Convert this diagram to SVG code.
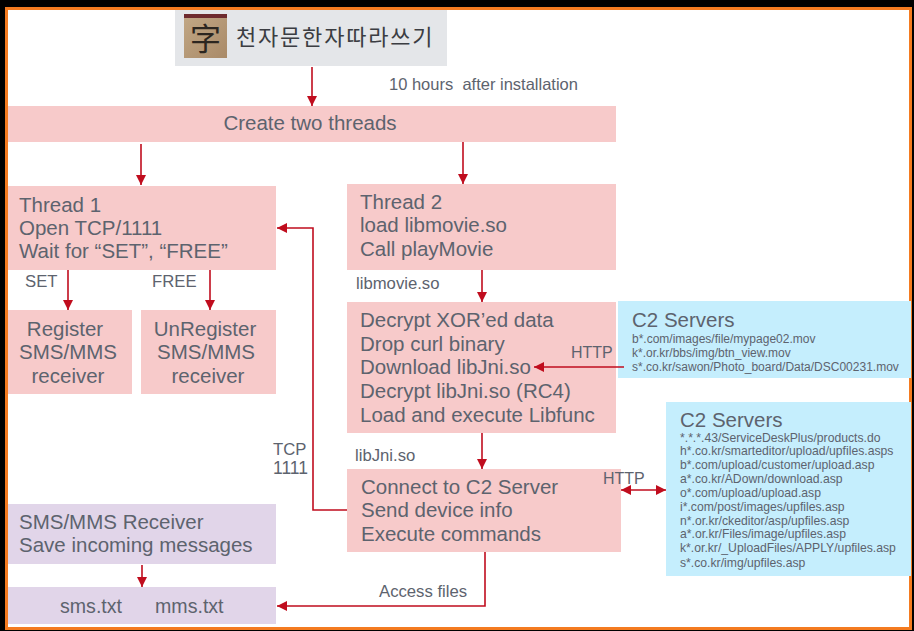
<svg xmlns="http://www.w3.org/2000/svg" width="914" height="631" viewBox="0 0 914 631">
<defs>
<marker id="ah" markerUnits="userSpaceOnUse" markerWidth="11" markerHeight="11" refX="10" refY="5" orient="auto-start-reverse"><path d="M0 0L10 5L0 10Z" fill="#c00d1e"/></marker>
<linearGradient id="tan" x1="0" y1="0" x2="1" y2="1"><stop offset="0" stop-color="#c2a886"/><stop offset="1" stop-color="#a98a68"/></linearGradient>
</defs>
<style>
text{font-family:"Liberation Sans",Arial,sans-serif;fill:#5d636e;white-space:pre}
.pink{fill:#f7caca}.lav{fill:#e1d5e9}.blue{fill:#c5eefd}
.t20{font-size:20.5px}.t17{font-size:16.7px}.t16{font-size:16.5px}.http{font-size:16px}.t11{font-size:12px}.t12{font-size:12.2px}
.c{text-anchor:middle}
#connectors path{fill:none;stroke:#c00d1e;stroke-width:1.6;marker-end:url(#ah)}
</style>
<rect width="914" height="631" fill="#000"/>
<rect x="6.500" y="8.500" width="904" height="620" fill="#fff" stroke="#f47b20" stroke-width="3"/>

<g id="app">
<rect x="175" y="10" width="272" height="56" fill="#e4e6e9"/>
<rect x="184" y="14" width="43" height="44" fill="url(#tan)"/>
<rect x="184" y="14" width="43" height="4" fill="#6e2a2e"/>
<text x="205.500" y="50" class="c" style="font-family:'Noto Sans CJK SC','Noto Sans CJK KR',sans-serif;fill:#2c2620;font-size:31px">字</text>
<text x="236" y="45" style="font-family:'Noto Sans CJK KR',sans-serif;fill:#3b3d42;font-size:22px;letter-spacing:1.8px">천자문한자따라쓰기</text>
</g>
<g id="note"><text x="389" y="90" class="t16">10 hours  after installation</text></g>
<g id="create">
<rect x="8" y="106" width="608" height="36" class="pink"/>
<text x="310" y="130" class="t20 c">Create two threads</text>
</g>
<g id="thread1">
<rect x="8" y="186" width="268" height="84" class="pink"/>
<text x="19" y="212" class="t20">Thread 1</text>
<text x="19" y="235" class="t20">Open TCP/1111</text>
<text x="19" y="258" class="t20">Wait for “SET”, “FREE”</text>
</g>
<g id="thread2">
<rect x="347" y="184" width="269" height="86" class="pink"/>
<text x="360" y="209" class="t20">Thread 2</text>
<text x="360" y="232" class="t20">load libmovie.so</text>
<text x="360" y="256" class="t20">Call playMovie</text>
</g>
<g id="register">
<rect x="8" y="310" width="124" height="84" class="pink"/>
<text x="65" y="336" class="t20 c">Register</text>
<text x="68" y="359" class="t20 c">SMS/MMS</text>
<text x="68" y="383" class="t20 c">receiver</text>
</g>
<g id="unregister">
<rect x="141" y="310" width="135" height="84" class="pink"/>
<text x="205" y="336" class="t20 c">UnRegister</text>
<text x="206" y="359" class="t20 c">SMS/MMS</text>
<text x="208" y="383" class="t20 c">receiver</text>
</g>
<g id="decrypt">
<rect x="347" y="302" width="269" height="131" class="pink"/>
<text x="360" y="327" class="t20">Decrypt XOR’ed data</text>
<text x="360" y="351" class="t20">Drop curl binary</text>
<text x="360" y="374" class="t20">Download libJni.so</text>
<text x="360" y="398" class="t20">Decrypt libJni.so (RC4)</text>
<text x="360" y="422" class="t20">Load and execute Libfunc</text>
</g>
<g id="connect">
<rect x="347" y="469" width="274" height="83" class="pink"/>
<text x="361" y="494" class="t20">Connect to C2 Server</text>
<text x="361" y="517" class="t20">Send device info</text>
<text x="361" y="541" class="t20">Execute commands</text>
</g>
<g id="receiver">
<rect x="8" y="504" width="268" height="60" class="lav"/>
<text x="19" y="529" class="t20">SMS/MMS Receiver</text>
<text x="19" y="552" class="t20">Save incoming messages</text>
</g>
<g id="files">
<rect x="8" y="587" width="268" height="37" class="lav"/>
<text x="60" y="613" style="font-size:19.6px">sms.txt</text>
<text x="155" y="613" style="font-size:19.6px">mms.txt</text>
</g>
<g id="c2a">
<rect x="618" y="301" width="293" height="77" class="blue"/>
<text x="632" y="327" class="t20">C2 Servers</text>
<text x="632" y="343" class="t11">b*.com/images/file/mypage02.mov</text>
<text x="632" y="357" class="t11">k*.or.kr/bbs/img/btn_view.mov</text>
<text x="632" y="371" class="t11">s*.co.kr/sawon/Photo_board/Data/DSC00231.mov</text>
</g>
<g id="c2b">
<rect x="666" y="402" width="245" height="174" class="blue"/>
<text x="680" y="427" class="t20">C2 Servers</text>
<text x="680" y="442" class="t12">*.*.*.43/ServiceDeskPlus/products.do</text>
<text x="680" y="455" class="t12">h*.co.kr/smarteditor/upload/upfiles.asps</text>
<text x="680" y="469" class="t12">b*.com/upload/customer/upload.asp</text>
<text x="680" y="483" class="t12">a*.co.kr/ADown/download.asp</text>
<text x="680" y="497" class="t12">o*.com/upload/upload.asp</text>
<text x="680" y="511" class="t12">i*.com/post/images/upfiles.asp</text>
<text x="680" y="525" class="t12">n*.or.kr/ckeditor/asp/upfiles.asp</text>
<text x="680" y="538" class="t12">a*.or.kr/Files/image/upfiles.asp</text>
<text x="680" y="552" class="t12">k*.or.kr/_UploadFiles/APPLY/upfiles.asp</text>
<text x="680" y="567" class="t12">s*.co.kr/img/upfiles.asp</text>
</g>
<g id="labels">
<text x="25" y="287" class="t17">SET</text>
<text x="152" y="287" class="t17">FREE</text>
<text x="356" y="289" class="t17">libmovie.so</text>
<text x="355" y="461" class="t17">libJni.so</text>
<text x="571" y="358" class="http">HTTP</text>
<text x="603" y="484" class="http">HTTP</text>
<text x="273" y="455" class="t17">TCP</text>
<text x="273" y="474" style="font-size:17.500px">1111</text>
<text x="379" y="597" class="t17">Access files</text>
</g>
<g id="connectors">
<path d="M312 67V106"/>
<path d="M141 144V185"/>
<path d="M463 142V184"/>
<path d="M68 270V310"/>
<path d="M210 270V310"/>
<path d="M482 270V302"/>
<path d="M482 433V469"/>
<path d="M624 367H534"/>
<path d="M621 490H666" style="marker-start:url(#ah)"/>
<path d="M347 510H313V228H277"/>
<path d="M142 565V587"/>
<path d="M485 552V606H277"/>
</g>
</svg>
